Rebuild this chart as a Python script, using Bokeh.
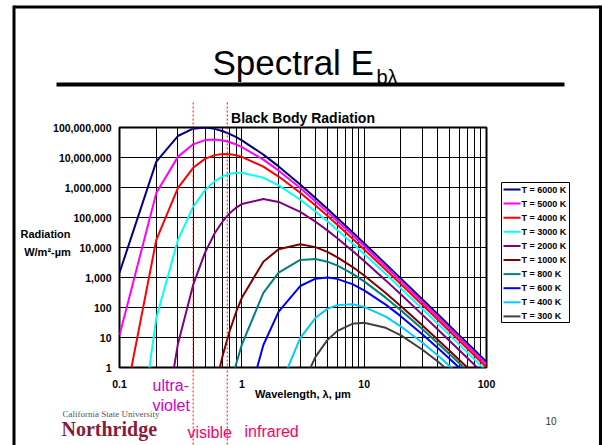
import numpy as np
from bokeh.plotting import figure
from bokeh.models import FixedTicker, NumeralTickFormatter, Span, GridBox
from bokeh.core.properties import value
from bokeh.embed import file_html
from bokeh.resources import INLINE

# ---------------- data ----------------
wavelength = [0.1, 0.2, 0.3, 0.4, 0.5, 0.6, 0.7, 0.8, 0.9, 1, 1.5, 2, 3, 4, 5, 6, 8, 10,
              15, 20, 30, 40, 60, 80, 100]
N = None
t6000 = [1440, 7.26e6, 5.20e7, 9.13e7, 9.98e7, 9.01e7, 7.48e7, 6.00e7, 4.75e7, 3.74e7, 1.25e7,
         5.05e6, 1.26e6, 4.45e5, 1.95e5, 9.79e4, 3.27e4, 1.38e4, 2840, 918, 185, 59.2, 11.8, 3.75, 1.54]
t5000 = [11.9, 6.60e5, 1.05e7, 2.75e7, 3.80e7, 4.01e7, 3.71e7, 3.22e7, 2.70e7, 2.23e7, 8.48e6,
         3.64e6, 9.57e5, 3.47e5, 1.54e5, 7.82e4, 2.64e4, 1.12e4, 2330, 756, 153, 49.0, 9.80, 3.12, 1.28]
t4000 = [0.0089, 1.81e4, 9.56e5, 4.54e6, 9.00e6, 1.20e7, 1.31e7, 1.29e7, 1.19e7, 1.05e7, 4.93e6,
         2.32e6, 6.65e5, 2.51e5, 1.14e5, 5.86e4, 2.01e4, 8640, 1820, 594, 121, 38.8, 7.79, 2.48, 1.02]
t3000 = [6e-8, 45.0, 1.76e4, 2.27e5, 8.18e5, 1.63e6, 2.36e6, 2.85e6, 3.09e6, 3.12e6, 2.10e6,
         1.17e6, 3.90e5, 1.58e5, 7.44e4, 3.93e4, 1.39e4, 6080, 1310, 432, 88.8, 28.7, 5.78, 1.85, 0.76]
t2000 = [N, 2.8e-4, 5.93, 565, 6760, 2.99e4, 7.66e4, 1.42e5, 2.14e5, 2.81e5, 4.11e5,
         3.30e5, 1.54e5, 7.25e4, 3.72e4, 2.08e4, 7830, 3550, 801, 270, 56.8, 18.6, 3.78, 1.21, 0.50]
t1000 = [N, N, N, N, 0.0038, 0.185, 2.64, 17.7, 72.3, 211, 3360,
         8790, 1.28e4, 1.03e4, 7140, 4810, 2270, 1160, 306, 111, 25.0, 8.44, 1.78, 0.58, 0.24]
t800 = [N, N, N, N, N, N, 0.0155, 0.197, 1.33, 5.79, 306,
        1450, 3850, 4120, 3370, 2530, 1350, 743, 213, 80.2, 18.8, 6.44, 1.38, 0.45, 0.19]
t600 = [N, N, N, N, N, N, N, N, 0.0017, 0.0144, 5.62,
        72.6, 520, 913, 998, 901, 600, 374, 125, 50.5, 12.6, 4.45, 0.98, 0.33, 0.14]
t400 = [N, N, N, N, N, N, N, N, N, N, 0.0019,
        0.181, 9.56, 45.4, 90.0, 120, 129, 105, 49.3, 23.2, 6.65, 2.51, 0.586, 0.201, 0.086]
t300 = [N, N, N, N, N, N, N, N, N, N, N,
        4.5e-4, 0.176, 2.27, 8.18, 16.3, 28.5, 31.2, 21.0, 11.7, 3.90, 1.58, 0.393, 0.139, 0.061]

series_labels = ["T = 6000 K", "T = 5000 K", "T = 4000 K", "T = 3000 K", "T = 2000 K",
                 "T = 1000 K", "T = 800 K", "T = 600 K", "T = 400 K", "T = 300 K"]
series_values = [t6000, t5000, t4000, t3000, t2000, t1000, t800, t600, t400, t300]
series_colors = ["#000080", "#FF00FF", "#FF0000", "#00FFFF", "#800080",
                 "#800000", "#008080", "#0000FF", "#00CCFF", "#404040"]

y_ticks = [1, 10, 100, 1e3, 1e4, 1e5, 1e6, 1e7, 1e8]
x_ticks = [0.1, 1, 10, 100]
visible_band = [0.4, 0.76]   # micrometres

W, H = 602, 445
FL, FR, FT, FB = 119, 486, 127, 367   # chart frame edges on the canvas

# ---------------- slide background (decorations) ----------------
deco = figure(width=W, height=H, x_range=(0, W), y_range=(H, 0),
              x_axis_location=None, y_axis_location=None,
              output_backend="svg", toolbar_location=None, min_border=0,
              frame_align=False)
deco.grid.visible = False
deco.outline_line_color = None
deco.background_fill_color = "white"
deco.border_fill_color = "white"

# slide frame
deco.segment(x0=[13.5, 13.5, 600], y0=[6.5, 5, 5], x1=[600, 13.5, 600], y1=[6.5, H, H],
             line_color="black", line_width=3)
# title rule
deco.segment(x0=[56], y0=[84], x1=[564], y1=[84], line_color="black", line_width=4)

# visible band boundary lines (outside the chart frame part)
band_x = [FL + (FR - FL) * np.log10(b / x_ticks[0]) / 3 for b in visible_band]
deco.segment(x0=band_x, y0=[102] * 2, x1=band_x, y1=[H] * 2,
             line_color="#FF0000", line_width=1, line_dash="2 2")

deco.text(x=[212], y=[62], text=["Spectral E"], text_font=value("Liberation Sans"),
          text_font_size="35px", text_color="black", text_baseline="alphabetic")
deco.text(x=[376], y=[76], text=["bλ"], text_font=value("Liberation Sans"),
          text_font_size="20px", text_color="black", text_baseline="alphabetic")

# chart title
deco.text(x=[(FL + FR) / 2], y=[117], text=["Black Body Radiation"],
          text_font=value("Liberation Sans"), text_font_style="bold", text_font_size="14px",
          text_color="black", text_align="center", text_baseline="middle")

# y axis title
deco.text(x=[45, 47], y=[233, 251], text=["Radiation", "W/m²-µm"],
          text_font=value("Liberation Sans"), text_font_style="bold", text_font_size="11px",
          text_color="black", text_align="center", text_baseline="middle")

# legend box (outside the chart frame)
LX0, LX1, LY0, LY1 = 501, 569, 182, 322
deco.quad(left=[LX0], right=[LX1], top=[LY0], bottom=[LY1], fill_color="white",
          line_color="black", line_width=1)
row_y = [LY0 + 7 + 14.1 * i for i in range(len(series_labels))]
deco.segment(x0=[LX0 + 2] * len(row_y), y0=row_y, x1=[LX0 + 19] * len(row_y), y1=row_y,
             line_color=series_colors, line_width=2)
deco.text(x=[LX0 + 20] * len(row_y), y=row_y, text=series_labels,
          text_font=value("Liberation Sans"), text_font_style="bold", text_font_size="9px",
          text_color="black", text_baseline="middle")

deco.text(x=[152, 152], y=[385, 405], text=["ultra-", "violet"],
          text_font=value("Liberation Sans"), text_font_size="16px", text_color="#CC00CC",
          text_baseline="middle")
deco.text(x=[187, 244], y=[432, 431], text=["visible", "infrared"],
          text_font=value("Liberation Sans"), text_font_size="16px", text_color="#FF0066",
          text_baseline="middle")

deco.text(x=[62], y=[413], text=["California State University"],
          text_font=value("Liberation Serif"), text_font_size="9px", text_color="#555555",
          text_baseline="middle")
deco.text(x=[61], y=[428], text=["Northridge"], text_font=value("Liberation Serif"),
          text_font_style="bold", text_font_size="20px", text_color="#8B1A3A",
          text_baseline="middle")
deco.text(x=[545], y=[420], text=["10"], text_font=value("Liberation Sans"),
          text_font_size="10px", text_color="#333333", text_baseline="middle")

# ---------------- chart (overlaid on the slide) ----------------
p = figure(width=W, height=H, x_axis_type="log", y_axis_type="log",
           x_range=(0.1, 100), y_range=(1, 1e8),
           output_backend="svg", toolbar_location=None,
           min_border_left=FL, min_border_right=W - FR,
           min_border_top=FT, min_border_bottom=H - FB,
           frame_align=False)
p.background_fill_color = "white"
p.border_fill_color = None
p.outline_line_color = "black"
p.outline_line_width = 2

minor = [k * t for t in x_ticks[:-1] for k in range(2, 10)]
p.xaxis.ticker = FixedTicker(ticks=x_ticks, minor_ticks=minor)
p.yaxis.ticker = FixedTicker(ticks=y_ticks)
p.xaxis.formatter = NumeralTickFormatter(format="0,0.[0]")
p.yaxis.formatter = NumeralTickFormatter(format="0,0")
for ax in (p.xaxis, p.yaxis):
    ax.axis_line_color = None
    ax.major_tick_in = 0
    ax.major_tick_out = 0
    ax.minor_tick_in = 0
    ax.minor_tick_out = 0
    ax.major_label_text_font = "Liberation Sans"
    ax.major_label_text_font_style = "bold"
    ax.major_label_text_font_size = "10.5px"
    ax.major_label_text_color = "black"
p.yaxis.major_label_standoff = 8
p.xaxis.major_label_standoff = 12
p.xaxis.axis_label = "Wavelength, λ, µm"
p.xaxis.axis_label_text_font = "Liberation Sans"
p.xaxis.axis_label_text_font_style = "bold"
p.xaxis.axis_label_text_font_size = "11px"
p.xaxis.axis_label_text_color = "black"
p.xaxis.axis_label_standoff = -3

p.xgrid.grid_line_color = "black"
p.xgrid.minor_grid_line_color = "black"
p.ygrid.grid_line_color = "black"

x = np.array(wavelength, dtype=float)
for lab, vals, col in zip(series_labels, series_values, series_colors):
    p.line(x, np.array(vals, dtype=float), line_color=col, line_width=2)

for b in visible_band:
    p.add_layout(Span(location=b, dimension="height", line_color="#FF0000",
                      line_width=1, line_dash="2 2"))

layout = GridBox(children=[(deco, 0, 0), (p, 0, 0)], spacing=0)
open("out.html", "w").write(file_html(layout, INLINE))
